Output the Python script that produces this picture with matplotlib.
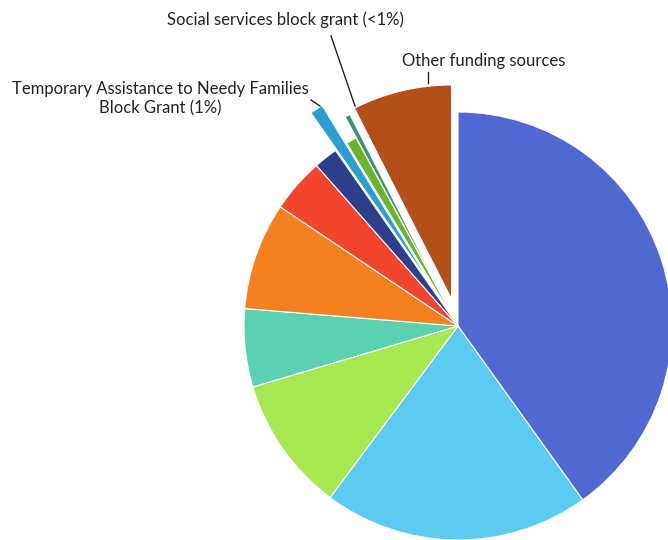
import numpy as np
import matplotlib.pyplot as plt

# 数据（顺时针，从12点方向开始）
shares = [40.1, 20.1, 10.2, 5.9, 8.1, 4.1, 1.8, 1.0, 0.8, 0.4, 7.5]
colors = ['#5068d2', '#5ccbf3', '#a6e84f', '#58d2b0', '#f5801f', '#f2452c',
          '#2d3e8a', '#2a9fd0', '#6cb42a', '#3e9077', '#b3501a']
explode_frac = [0, 0, 0, 0, 0, 0, 0, 0.21, 0, 0.11, 0.13]

label_tanf = 'Temporary Assistance to Needy Families\nBlock Grant (1%)'
label_social = 'Social services block grant (<1%)'
label_other = 'Other funding sources'

plt.rcParams['font.family'] = ['Lato', 'DejaVu Sans']

fig = plt.figure(figsize=(6.68, 5.40), dpi=100)
ax = fig.add_axes([0, 0, 1, 1])

# 饼图，坐标单位即像素；explode 在 matplotlib 中是绝对距离
cx, cy, r = 458, 540 - 326, 214
explode = [e * r for e in explode_frac]
ax.pie(shares, colors=colors, explode=explode, startangle=90, counterclock=False,
       center=(cx, cy), radius=r, frame=True,
       wedgeprops=dict(edgecolor='white', linewidth=0.8))

ax.set_xlim(0, 668)
ax.set_ylim(0, 540)
ax.set_aspect('equal')
ax.axis('off')

# 标签和引线
ax.text(285, 540 - 20, label_social, ha='center', va='center', fontsize=12, color='#222222')
ax.plot([331, 355], [540 - 36, 540 - 106], color='#222222', lw=1.0)

ax.text(484, 540 - 61, label_other, ha='center', va='center', fontsize=12, color='#222222')
ax.plot([428, 428], [540 - 72, 540 - 83], color='#222222', lw=1.0)

ax.text(160, 540 - 99, label_tanf, ha='center', va='center', fontsize=12,
        color='#222222', linespacing=1.25)
ax.plot([311, 320], [540 - 100, 540 - 106], color='#222222', lw=1.0)

fig.savefig('out.png', dpi=100)
